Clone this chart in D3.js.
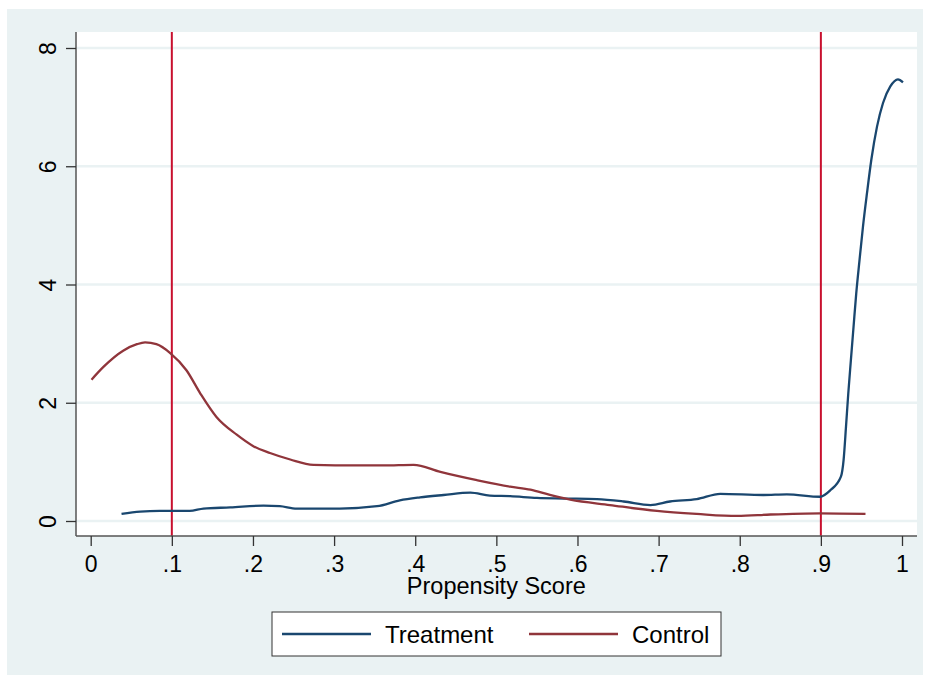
<!DOCTYPE html>
<html>
<head>
<meta charset="utf-8">
<script src="https://cdn.jsdelivr.net/npm/d3@7"></script>
<style>
  body { margin: 0; background: #fff; }
  svg { display: block; font-family: "Liberation Sans", Arial, sans-serif; }
</style>
</head>
<body>
<div id="chart"></div>
<script>
// propensity score grid
const treatX = [0.038, 0.061, 0.085, 0.1, 0.122, 0.139, 0.172, 0.213, 0.233, 0.254, 0.307, 0.353, 0.381,
  0.406, 0.435, 0.468, 0.492, 0.517, 0.55, 0.583, 0.624, 0.657, 0.69, 0.714, 0.747, 0.776, 0.829, 0.858,
  0.899, 0.9116, 0.9247, 0.928, 0.931, 0.9338, 0.937, 0.9403, 0.9436, 0.9477, 0.9519, 0.9568, 0.9622,
  0.9692, 0.9766, 0.9856, 0.995, 1.0012];
const treatY = [0.12, 0.16, 0.17, 0.17, 0.17, 0.21, 0.23, 0.26, 0.25, 0.21, 0.21, 0.25, 0.35,
  0.40, 0.44, 0.48, 0.43, 0.42, 0.39, 0.38, 0.37, 0.33, 0.27, 0.33, 0.37, 0.46, 0.44, 0.45,
  0.41, 0.52, 0.75, 1.03, 1.60, 2.16, 2.72, 3.29, 3.85, 4.42, 4.98, 5.54, 6.11,
  6.67, 7.07, 7.35, 7.47, 7.42];

const ctrlX = [0.001, 0.016, 0.04, 0.057, 0.067, 0.081, 0.098, 0.118, 0.135, 0.155, 0.18, 0.2, 0.221,
  0.246, 0.2745, 0.328, 0.361, 0.398, 0.431, 0.476, 0.517, 0.542, 0.566, 0.591, 0.64, 0.698, 0.747,
  0.797, 0.838, 0.899, 0.955];
const ctrlY = [2.39, 2.61, 2.88, 2.99, 3.02, 2.99, 2.84, 2.55, 2.16, 1.76, 1.46, 1.27, 1.15,
  1.04, 0.95, 0.94, 0.94, 0.95, 0.83, 0.69, 0.58, 0.53, 0.44, 0.36, 0.27, 0.17, 0.12,
  0.085, 0.11, 0.13, 0.12];

const xTicks = [0, 0.1, 0.2, 0.3, 0.4, 0.5, 0.6, 0.7, 0.8, 0.9, 1];
const xTickLabels = ["0", ".1", ".2", ".3", ".4", ".5", ".6", ".7", ".8", ".9", "1"];
const yTicks = [0, 2, 4, 6, 8];
const cutoffs = [0.1, 0.9];
const seriesNames = ["Treatment", "Control"];

const width = 930, height = 681;
const plot = { left: 76, right: 917, top: 32, bottom: 536 };

const svg = d3.select("#chart").append("svg")
  .attr("width", width)
  .attr("height", height);

// stata-ish outer background
svg.append("rect")
  .attr("x", 7).attr("y", 9)
  .attr("width", 916).attr("height", 666)
  .attr("fill", "#eaf2f3");

svg.append("rect")
  .attr("x", plot.left).attr("y", plot.top)
  .attr("width", plot.right - plot.left).attr("height", plot.bottom - plot.top)
  .attr("fill", "#fff");

const x = d3.scaleLinear().domain([0, 1]).range([90.7, 902]);
const y = d3.scaleLinear().domain([0, 8]).range([521, 48]);

// gridlines
svg.append("g")
  .selectAll("line")
  .data(yTicks)
  .join("line")
  .attr("x1", plot.left).attr("x2", plot.right)
  .attr("y1", d => y(d)).attr("y2", d => y(d))
  .attr("stroke", "#eaf2f3")
  .attr("stroke-width", 2.5);

// cutoff lines
svg.append("g")
  .selectAll("line")
  .data(cutoffs)
  .join("line")
  .attr("x1", d => x(d)).attr("x2", d => x(d))
  .attr("y1", plot.top).attr("y2", plot.bottom)
  .attr("stroke", "#c8102e")
  .attr("stroke-width", 2);

const line = d3.line()
  .x(d => x(d[0]))
  .y(d => y(d[1]))
  .curve(d3.curveMonotoneX);

const colors = ["#1a476f", "#90353b"];
const series = [d3.zip(treatX, treatY), d3.zip(ctrlX, ctrlY)];

svg.append("g")
  .selectAll("path")
  .data(series)
  .join("path")
  .attr("d", line)
  .attr("fill", "none")
  .attr("stroke", (_, i) => colors[i])
  .attr("stroke-width", 2.3)
  .attr("stroke-linejoin", "round");

// axes
const xAxis = svg.append("g")
  .attr("transform", `translate(0,${plot.bottom})`)
  .call(d3.axisBottom(x).tickValues(xTicks).tickFormat((d, i) => xTickLabels[i]).tickSize(10).tickSizeOuter(0));
xAxis.select(".domain").attr("d", `M${plot.left},0H${plot.right}`);

const yAxis = svg.append("g")
  .attr("transform", `translate(${plot.left},0)`)
  .call(d3.axisLeft(y).tickValues(yTicks).tickSize(10).tickSizeOuter(0));
yAxis.select(".domain").attr("d", `M0,${plot.top}V${plot.bottom}`);

svg.selectAll(".domain").attr("stroke", "#555").attr("stroke-width", 1.5);
svg.selectAll(".tick line").attr("stroke", "#333").attr("stroke-width", 1.3);

xAxis.selectAll("text")
  .attr("font-size", 23)
  .attr("fill", "#000")
  .attr("y", 19.5);

yAxis.selectAll("text")
  .attr("font-size", 23)
  .attr("fill", "#000")
  .attr("x", 0)
  .attr("y", 0)
  .attr("dy", 0)
  .attr("text-anchor", "middle")
  .attr("transform", "translate(-20,0) rotate(-90)");

svg.append("text")
  .attr("x", x(0.5))
  .attr("y", 594)
  .attr("text-anchor", "middle")
  .attr("font-size", 23.5)
  .text("Propensity Score");

// legend
const legend = svg.append("g");
legend.append("rect")
  .attr("x", 272).attr("y", 612)
  .attr("width", 449).attr("height", 44)
  .attr("fill", "#fff")
  .attr("stroke", "#333")
  .attr("stroke-width", 1);

const legendPos = [282, 529];
seriesNames.forEach((name, i) => {
  legend.append("line")
    .attr("x1", legendPos[i]).attr("x2", legendPos[i] + 89)
    .attr("y1", 634).attr("y2", 634)
    .attr("stroke", colors[i])
    .attr("stroke-width", 2.3);
  legend.append("text")
    .attr("x", legendPos[i] + 103)
    .attr("y", 643)
    .attr("font-size", 24)
    .text(name);
});
</script>
</body>
</html>
